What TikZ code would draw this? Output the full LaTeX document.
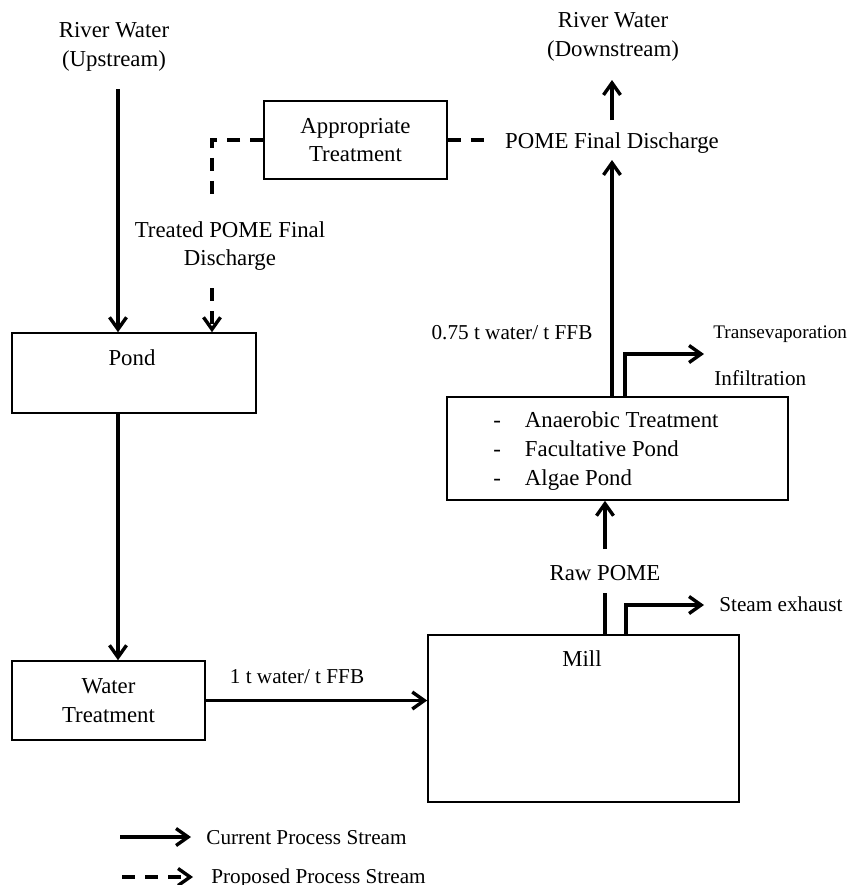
\documentclass[tikz,border=0pt]{standalone}
\usepackage{fontspec}
\setmainfont{Liberation Serif}
\usetikzlibrary{arrows.meta}
\begin{document}
\begin{tikzpicture}[x=0.5pt,y=-0.5pt,
  box/.style={draw,line width=0.8pt,inner sep=0pt},
  big/.style={font=\fontsize{11.4}{14.3}\selectfont,align=center,inner sep=0pt},
  small/.style={font=\fontsize{10.6}{13}\selectfont,inner sep=0pt},
  flow/.style={line width=1.7pt,-{Straight Barb[length=6pt,width=8.5pt]}},
  plain/.style={line width=1.7pt},
  prop/.style={line width=1.7pt,dash pattern=on 6.5pt off 5pt},
  proparr/.style={prop,-{Straight Barb[length=6pt,width=8.5pt]}}]
\useasboundingbox (0,0) rectangle (850,885);

% texts
\node[big] (rwu) at (114,47) {River Water\\(Upstream)};
\node[big] (rwd) at (613,37) {River Water\\(Downstream)};
\node[big] (pfd) at (612,143) {POME Final Discharge};
\node[big] (tpfd) at (230,246) {Treated POME Final\\Discharge};
\node[small] (l075) at (512,333) {0.75 t water/ t FFB};
\node[small,anchor=west,font=\fontsize{9.6}{12}\selectfont] (trans) at (713,334) {Transevaporation};
\node[small,anchor=west] (infil) at (714,378) {Infiltration};
\node[big] (raw) at (605,573) {Raw POME};
\node[small,anchor=west] (steam) at (719,604) {Steam exhaust};
\node[small] (l1t) at (297,677) {1 t water/ t FFB};

% boxes
\node[box,big,minimum width=91.5pt,minimum height=39pt] (apt) at (355.5,140) {Appropriate\\Treatment};
\node[box,minimum width=122pt,minimum height=40pt] (pond) at (134,373) {};
\node[big] (pondt) at (132,358) {Pond};
\node[box,big,minimum width=96.5pt,minimum height=39.5pt] (wt) at (108.5,700.5) {Water\\Treatment};
\node[box,minimum width=155.5pt,minimum height=83.5pt] (mill) at (583.5,718.5) {};
\node[big] (millt) at (582,659) {Mill};
\node[box,minimum width=170.5pt,minimum height=51.5pt] (ana) at (617.5,448.5) {};
\node[big,anchor=west,align=left] (anat) at (493,451) {-\hspace{12pt}Anaerobic Treatment\\-\hspace{12pt}Facultative Pond\\-\hspace{12pt}Algae Pond};

% coordinates
\coordinate (a1) at (118,89);
\coordinate (up0) at (612,160);
\coordinate (up1) at (612,120);
\coordinate (up2) at (612,80);
\coordinate (tr0) at (625,354);
\coordinate (tr1) at (704,354);
\coordinate (rawhi) at (605,549);
\coordinate (rawlo) at (605,593);
\coordinate (st0) at (626,605);
\coordinate (st1) at (704,605);
\coordinate (d1) at (212,203);
\coordinate (d2) at (212,288);
\coordinate (d3) at (488,140);

% current streams
\draw[flow] (a1) -- (a1 |- pond.north);
\draw[flow] (a1 |- pond.south) -- (a1 |- wt.north);
\draw[flow] (wt.east) -- (mill.west |- wt.east);
\draw[plain] (rawlo |- mill.north) -- (rawlo);
\draw[flow] (rawhi) -- (rawhi |- ana.south);
\draw[flow] (st0 |- mill.north) -- (st0) -- (st1);
\draw[flow] (up0 |- ana.north) -- (up0);
\draw[flow] (tr0 |- ana.north) -- (tr0) -- (tr1);
\draw[flow] (up1) -- (up2);

% proposed streams
\draw[prop] (apt.west) -| (d1);
\draw[proparr] (d2) -- (d2 |- pond.north);
\draw[prop] (apt.east) -- (d3);

% legend
\coordinate (lg1a) at (120,837);
\coordinate (lg1b) at (191,837);
\coordinate (lg2a) at (122,877);
\coordinate (lg2b) at (193,877);
\draw[flow] (lg1a) -- (lg1b);
\node[small,anchor=west] (lgt1) at (206,838) {Current Process Stream};
\draw[proparr] (lg2a) -- (lg2b);
\node[small,anchor=west] (lgt2) at (211,878) {Proposed Process Stream};
\end{tikzpicture}
\end{document}
